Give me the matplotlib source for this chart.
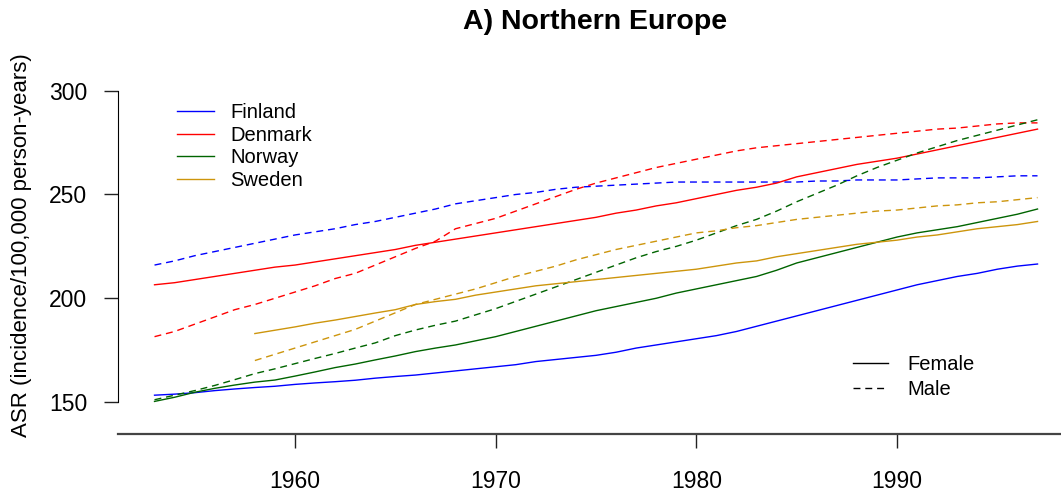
import matplotlib
matplotlib.use("Agg")
import matplotlib.pyplot as plt
from matplotlib.lines import Line2D

plt.rcParams["font.family"] = ["Liberation Sans", "DejaVu Sans"]

years = list(range(1953, 1998))
years_se = list(range(1958, 1998))

# ASR per 100,000 person-years
finland_f = [153.3, 153.8, 154.5, 155.5, 156.3, 157, 157.6, 158.5, 159.2, 159.8,
             160.5, 161.5, 162.3, 163, 164, 165, 166, 167, 168, 169.5,
             170.5, 171.5, 172.5, 174, 176, 177.5, 179, 180.5, 182, 184,
             186.5, 189, 191.5, 194, 196.5, 199, 201.5, 204, 206.5, 208.5,
             210.5, 212, 214, 215.5, 216.5]
finland_m = [216, 218, 220.5, 222.5, 224.5, 226.5, 228.5, 230.5, 232, 233.5,
             235.5, 237, 239, 241, 243, 245.5, 247, 248.5, 250, 251,
             252.5, 253.5, 254, 254.5, 255, 255.5, 256, 256, 256, 256,
             256, 256, 256, 256.5, 256.5, 257, 257, 257, 257.5, 258,
             258, 258, 258.5, 259, 259]
denmark_f = [206.5, 207.5, 209, 210.5, 212, 213.5, 215, 216, 217.5, 219,
             220.5, 222, 223.5, 225.5, 227, 228.5, 230, 231.5, 233, 234.5,
             236, 237.5, 239, 241, 242.5, 244.5, 246, 248, 250, 252,
             253.5, 255.5, 258.5, 260.5, 262.5, 264.5, 266, 267.5, 269.5, 271.5,
             273.5, 275.5, 277.5, 279.5, 281.5]
denmark_m = [181.5, 184, 187.5, 191, 194.5, 197, 200, 203, 206, 209.5,
             212, 216, 220, 224, 227.5, 233.5, 236, 238.5, 242, 245.5,
             249, 252.5, 255.5, 258, 260.5, 263, 265, 267, 269, 271,
             272.5, 273.5, 274.5, 275.5, 276.5, 277.5, 278.5, 279.5, 280.5, 281.5,
             282, 283, 284, 284.5, 284.5]
norway_f = [150.3, 152.3, 154.7, 156.6, 158.2, 159.6, 160.6, 162.5, 164.5, 166.6,
            168.3, 170.3, 172.2, 174.3, 176, 177.5, 179.5, 181.5, 184, 186.5,
            189, 191.5, 194, 196, 198, 200, 202.5, 204.5, 206.5, 208.5,
            210.5, 213.5, 217, 219.5, 222, 224.5, 227, 229.5, 231.5, 233,
            234.5, 236.5, 238.5, 240.5, 243]
norway_m = [151.1, 153.3, 155.5, 158, 160.8, 163.7, 166, 168.5, 171, 173.4,
            176, 178.5, 182, 184.7, 187, 189, 192, 195, 198.5, 202,
            205.5, 209, 212.5, 216, 219.5, 222.5, 225, 228, 231.5, 235,
            238, 242, 246.5, 250.5, 254.5, 259, 263, 266.5, 270, 273,
            276, 278.5, 281, 283.5, 286]
sweden_f = [183, 184.6, 186.2, 188, 189.5, 191.2, 192.9, 194.5, 197, 198.4,
            199.5, 201.5, 203, 204.5, 206, 207, 208, 209, 210, 211,
            212, 213, 214, 215.5, 217, 218, 220, 221.5, 223, 224.5,
            226, 227, 228, 229.5, 230.5, 232, 233.5, 234.5, 235.5, 237]
sweden_m = [170, 173, 176, 179, 182, 185, 189, 193, 197, 199.5,
            202, 204.5, 207.5, 210.5, 213, 215.5, 218.5, 221, 223.5, 225.5,
            227.5, 229.5, 231.5, 232.5, 234, 235, 236.5, 238, 239, 240,
            241, 242, 242.5, 243.5, 244.5, 245, 246, 246.5, 247.5, 248.5]

countries = ["Finland", "Denmark", "Norway", "Sweden"]
colors = ["#0000FF", "#FF0000", "#006400", "#CD950C"]
female = [finland_f, denmark_f, norway_f, sweden_f]
male = [finland_m, denmark_m, norway_m, sweden_m]
xs = [years, years, years, years_se]

fig = plt.figure(figsize=(10.61, 4.94), dpi=100)
ax = fig.add_axes([118 / 1061, 1 - 434 / 494, 943 / 1061, 374 / 494])

handles = []
for x, f, m, c, name in zip(xs, female, male, colors, countries):
    h, = ax.plot(x, f, color=c, lw=1.0, label=name)
    ax.plot(x, m, color=c, lw=1.0, dashes=(5, 3.5))
    handles.append(h)

ax.set_xlim(1951.18, 1998.17)
ax.set_ylim(134.6, 314.8)
ax.set_xticks([1960, 1970, 1980, 1990])
ax.set_yticks([150, 200, 250, 300])
ax.spines["top"].set_visible(False)
ax.spines["right"].set_visible(False)
ax.spines["left"].set_bounds(150, 300)
ax.spines["bottom"].set_color("#444444")
ax.spines["bottom"].set_linewidth(1.6)
ax.tick_params(axis="both", labelsize=16.5, length=10, width=1.0, color="#222222")
ax.tick_params(axis="y", pad=12)
ax.tick_params(axis="x", pad=16)

fig.text(595 / 1061, 1 - 22 / 494, "A) Northern Europe", ha="center", va="center",
         fontsize=20.5, fontweight="bold")
fig.text(22 / 1061, 1 - 245 / 494, "ASR (incidence/100,000 person-years)",
         rotation=90, ha="center", va="center", fontsize=16)

leg1 = ax.legend(handles=handles, loc="upper left", frameon=False,
                 bbox_to_anchor=(177 / 1061, 1 - 103 / 494),
                 bbox_transform=fig.transFigure, borderaxespad=0, borderpad=0,
                 fontsize=14.5, handlelength=1.84, handletextpad=0.8,
                 labelspacing=0.18)
ax.add_artist(leg1)

sex_handles = [Line2D([], [], color="black", lw=1.0, label="Female"),
               Line2D([], [], color="black", lw=1.0, dashes=(5, 3.5), label="Male")]
ax.legend(handles=sex_handles, loc="upper left", frameon=False,
          bbox_to_anchor=(853 / 1061, 1 - 355 / 494),
          bbox_transform=fig.transFigure, borderaxespad=0, borderpad=0,
          fontsize=14.5, handlelength=1.74, handletextpad=0.95,
          labelspacing=0.32)

fig.savefig("out.png", dpi=100)
